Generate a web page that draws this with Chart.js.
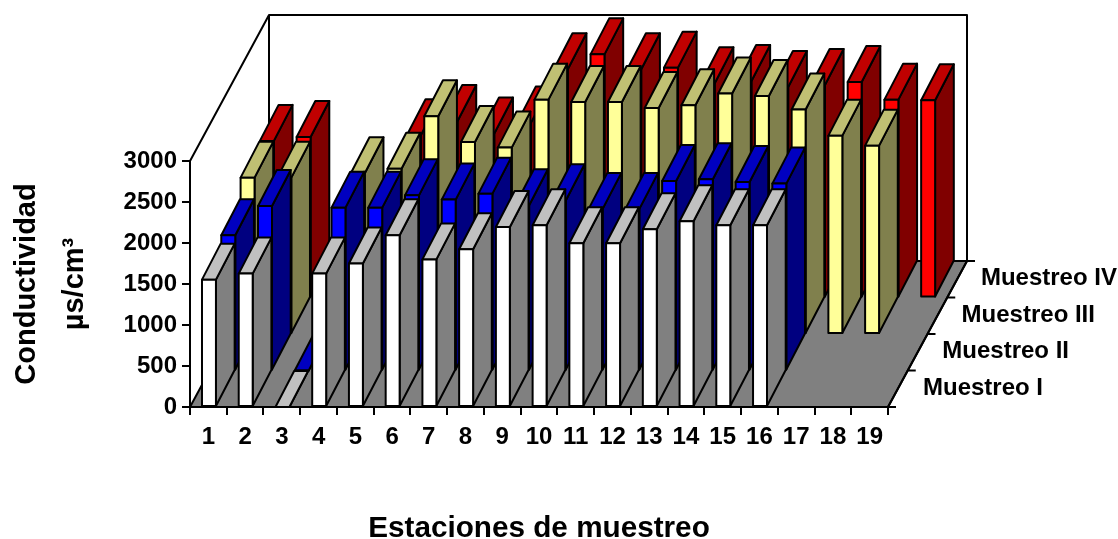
<!DOCTYPE html>
<html>
<head>
<meta charset="utf-8">
<title>Conductividad por estación</title>
<script src="https://cdn.jsdelivr.net/npm/chart.js@4"></script>
<style>
  html, body { margin: 0; padding: 0; background: #fff; }
  canvas { display: block; }
</style>
</head>
<body>
<canvas id="barChart" width="1118" height="539"></canvas>
<script>
const stations = ['1','2','3','4','5','6','7','8','9','10','11','12','13','14','15','16','17','18','19'];
const seriesNames = ['Muestreo I', 'Muestreo II', 'Muestreo III', 'Muestreo IV'];

const muestreoI = [1553, 1627, 0, 1627, 1749, 2094, 1800, 1923, 2195, 2216, 1996, 1996, 2167, 2265, 2216, 2216, null, null, null];
const muestreoII = [1649, 2006, 0, 1986, 1986, 2136, 2084, 2157, 2015, 2076, 1971, 1971, 2310, 2332, 2298, 2279, null, null, null];
const muestreoIII = [1907, 1907, 0, 1960, 2015, 2655, 2341, 2273, 2858, 2829, 2829, 2756, 2789, 2932, 2902, 2737, 2419, 2297, null];
const muestreoIV = [1910, 1958, 0, 1100, 1978, 2153, 1999, 2133, 2783, 2965, 2783, 2803, 2612, 2641, 2568, 2592, 2628, 2413, 2405];

const frontColors = ['#ffffff', '#0000ff', '#ffff99', '#ff0000'];
const topColors = ['#c0c0c0', '#0000c0', '#c0c073', '#c00000'];
const sideColors = ['#808080', '#000080', '#80804d', '#800000'];

const FONT = '"Liberation Sans", Arial, sans-serif';
const slotX = 19.75, slotY = -36.5;   // one series step along the floor edge
const rowX = 19.3;                    // sideways shift of each row of bars and its name
const barDX = 18.7, barDY = -36;      // depth of a single bar

function poly(ctx, pts, fill) {
  ctx.beginPath();
  pts.forEach((p, i) => i ? ctx.lineTo(p[0], p[1]) : ctx.moveTo(p[0], p[1]));
  ctx.closePath();
  if (fill) { ctx.fillStyle = fill; ctx.fill(); }
  ctx.stroke();
}

const bars3d = {
  id: 'bars3d',
  // walls and floor go under the axes
  beforeDraw(chart) {
    const { ctx, chartArea: a } = chart;
    const n = chart.data.datasets.length;
    const dx = slotX * n, dy = slotY * n;
    ctx.save();
    ctx.strokeStyle = '#000';
    ctx.lineWidth = 2;
    ctx.lineJoin = 'round';
    poly(ctx, [[a.left, a.bottom], [a.right, a.bottom], [a.right + dx, a.bottom + dy], [a.left + dx, a.bottom + dy]], '#808080');
    ctx.beginPath();
    ctx.moveTo(a.left, a.top);
    ctx.lineTo(a.left + dx, a.top + dy);
    ctx.lineTo(a.right + dx, a.top + dy);
    ctx.lineTo(a.right + dx, a.bottom + dy);
    ctx.moveTo(a.left + dx, a.top + dy);
    ctx.lineTo(a.left + dx, a.bottom + dy);
    ctx.stroke();
    ctx.restore();
  },
  // replaces the flat bar with front, side and top faces
  beforeDatasetDraw(chart, args) {
    const { ctx } = chart;
    const s = args.index;
    const ox = rowX * s, oy = slotY * s;
    ctx.save();
    ctx.strokeStyle = '#000';
    ctx.lineWidth = 2;
    ctx.lineJoin = 'round';
    args.meta.data.forEach((el, i) => {
      if (chart.data.datasets[s].data[i] === null) return;
      const l = el.x - el.width / 2 + ox + 0.6, r = l + el.width;
      const t = el.y + oy, b = el.base + oy;
      poly(ctx, [[r, t], [r + barDX, t + barDY], [r + barDX, b + barDY], [r, b]], sideColors[s]);
      poly(ctx, [[l, t], [l + barDX, t + barDY], [r + barDX, t + barDY], [r, t]], topColors[s]);
      poly(ctx, [[l, t], [r, t], [r, b], [l, b]], frontColors[s]);
    });
    ctx.restore();
    return false;
  },
  // depth axis: tick marks and series names along the floor edge
  afterDatasetsDraw(chart) {
    const { ctx, chartArea: a } = chart;
    const names = chart.data.datasets.map(d => d.label);
    ctx.save();
    ctx.strokeStyle = '#000';
    ctx.lineWidth = 2;
    ctx.beginPath();
    ctx.moveTo(a.right, a.bottom);
    ctx.lineTo(a.right + slotX * names.length, a.bottom + slotY * names.length);
    for (let i = 0; i <= names.length; i++) {
      const x = a.right + slotX * i, y = a.bottom + slotY * i;
      ctx.moveTo(x, y);
      ctx.lineTo(x + 8, y);
    }
    ctx.stroke();
    ctx.fillStyle = '#000';
    ctx.font = 'bold 24px ' + FONT;
    ctx.textBaseline = 'middle';
    names.forEach((name, i) => {
      ctx.fillText(name, a.right + 35 + rowX * i, a.bottom - 19 + slotY * i);
    });
    ctx.restore();
  }
};

new Chart(document.getElementById('barChart'), {
  type: 'bar',
  plugins: [bars3d],
  data: {
    labels: stations,
    datasets: [
      { label: seriesNames[0], data: muestreoI },
      { label: seriesNames[1], data: muestreoII },
      { label: seriesNames[2], data: muestreoIII },
      { label: seriesNames[3], data: muestreoIV }
    ]
  },
  options: {
    responsive: false,
    animation: false,
    layout: { padding: { top: 161, right: 230, left: 0, bottom: 0 } },
    datasets: { bar: { grouped: false, categoryPercentage: 1, barPercentage: 0.38 } },
    plugins: { legend: { display: false }, tooltip: { enabled: false } },
    scales: {
      x: {
        afterFit(scale) { scale.height = 132; },
        grid: { drawOnChartArea: false, color: '#000', lineWidth: 2, tickLength: 8 },
        border: { color: '#000', width: 2 },
        ticks: { color: '#000', font: { family: FONT, size: 24, weight: 'bold' }, padding: 8, maxRotation: 0, autoSkip: false },
        title: {
          display: true,
          text: 'Estaciones de muestreo',
          color: '#000',
          font: { family: FONT, size: 29.7, weight: 'bold' },
          padding: { top: 0, bottom: -8 }
        }
      },
      y: {
        min: 0,
        max: 3000,
        afterFit(scale) { scale.width = 190; },
        grid: { drawOnChartArea: false, color: '#000', lineWidth: 2, tickLength: 8 },
        border: { color: '#000', width: 2 },
        ticks: { color: '#000', font: { family: FONT, size: 24, weight: 'bold' }, stepSize: 500, padding: 5, callback: v => String(v) },
        title: {
          display: true,
          text: ['Conductividad', 'µs/cm³'],
          color: '#000',
          font: { family: FONT, size: 29, weight: 'bold', lineHeight: 1.65 },
          padding: { top: 3, bottom: 0 }
        }
      }
    }
  }
});
</script>
</body>
</html>
